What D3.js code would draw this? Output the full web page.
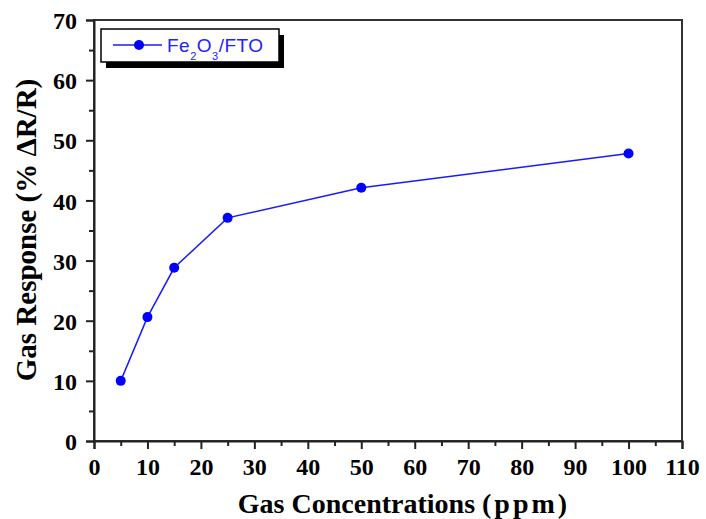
<!DOCTYPE html>
<html>
<head>
<meta charset="utf-8">
<script src="https://cdn.jsdelivr.net/npm/d3@7"></script>
<style>
  body { margin: 0; background: #fff; }
  .tick text { font-family: "Liberation Serif", serif; font-weight: bold; font-size: 24px; fill: #000; }
</style>
</head>
<body>
<div id="chart"></div>
<script>
// gas response vs concentration
var concentrations = [5, 10, 15, 25, 50, 100]
var responses = [10.0, 20.6, 28.8, 37.1, 42.1, 47.8]
var xTicks = [0, 10, 20, 30, 40, 50, 60, 70, 80, 90, 100, 110]
var yTicks = [0, 10, 20, 30, 40, 50, 60, 70]
var seriesName = "Fe2O3/FTO"

var margin = { top: 20, right: 24, bottom: 78, left: 94 },
  width = 706 - margin.left - margin.right,
  height = 519 - margin.top - margin.bottom

var svg = d3.select("#chart").append("svg")
  .attr("width", 706)
  .attr("height", 519)

var g = svg.append("g")
  .attr("transform", "translate(" + margin.left + "," + margin.top + ")")

var x = d3.scaleLinear().domain([0, 110]).range([0, width])
var y = d3.scaleLinear().domain([0, 70]).range([height, 0])

// frame
g.append("rect")
  .attr("x", 0).attr("y", 0)
  .attr("width", width).attr("height", height)
  .attr("fill", "none")
  .attr("stroke", "#333")
  .attr("stroke-width", 2)

// x axis with minor ticks
var xMinor = d3.range(5, 110, 10)
g.append("g")
  .attr("transform", "translate(0," + height + ")")
  .call(d3.axisBottom(x).tickValues(xMinor).tickSize(5).tickFormat(""))
  .call(function(a) { a.select(".domain").remove() })
  .selectAll("line").attr("stroke", "#222").attr("stroke-width", 2)
var xAxis = g.append("g")
  .attr("transform", "translate(0," + height + ")")
  .call(d3.axisBottom(x).tickValues(xTicks).tickSize(8).tickPadding(9).tickFormat(d3.format("d")))
xAxis.select(".domain").attr("stroke", "#222").attr("stroke-width", 2)
xAxis.selectAll("line").attr("stroke", "#222").attr("stroke-width", 2)

// y axis with minor ticks
var yMinor = d3.range(5, 70, 10)
g.append("g")
  .call(d3.axisLeft(y).tickValues(yMinor).tickSize(5).tickFormat(""))
  .call(function(a) { a.select(".domain").remove() })
  .selectAll("line").attr("stroke", "#222").attr("stroke-width", 2)
var yAxis = g.append("g")
  .call(d3.axisLeft(y).tickValues(yTicks).tickSize(8).tickPadding(9).tickFormat(d3.format("d")))
yAxis.select(".domain").attr("stroke", "#222").attr("stroke-width", 2)
yAxis.selectAll("line").attr("stroke", "#222").attr("stroke-width", 2)
yAxis.selectAll("text").attr("dy", "0.36em")

// axis titles
var xt = svg.append("text")
  .attr("x", 404)
  .attr("y", 513)
  .attr("text-anchor", "middle")
  .style("font-family", "Liberation Serif, serif")
  .style("font-weight", "bold")
  .style("font-size", "28px")
xt.append("tspan").text("Gas Concentrations ")
xt.append("tspan").style("letter-spacing", "3px").text("(ppm)")

svg.append("text")
  .attr("transform", "translate(36,230) rotate(-90)")
  .attr("text-anchor", "middle")
  .style("font-family", "Liberation Serif, serif")
  .style("font-weight", "bold")
  .style("font-size", "29px")
  .text("Gas Response (% \u0394R/R)")

// data line
var data = concentrations.map(function(c, i) { return { c: c, r: responses[i] } })
var line = d3.line()
  .x(function(d) { return x(d.c) })
  .y(function(d) { return y(d.r) })

g.append("path")
  .datum(data)
  .attr("fill", "none")
  .attr("stroke", "#1a1aff")
  .attr("stroke-width", 1.5)
  .attr("d", line)

g.selectAll(".dot")
  .data(data)
  .enter().append("circle")
  .attr("class", "dot")
  .attr("cx", function(d) { return x(d.c) })
  .attr("cy", function(d) { return y(d.r) })
  .attr("r", 5)
  .attr("fill", "#0000ff")

// legend
var lg = svg.append("g").attr("transform", "translate(101,29)")
lg.append("rect")
  .attr("x", 5).attr("y", 6)
  .attr("width", 178).attr("height", 33)
  .attr("fill", "#000")
lg.append("rect")
  .attr("x", 0).attr("y", 0)
  .attr("width", 178).attr("height", 33)
  .attr("fill", "#fff")
  .attr("stroke", "#000")
  .attr("stroke-width", 1.5)
lg.append("line")
  .attr("x1", 12).attr("x2", 61)
  .attr("y1", 16).attr("y2", 16)
  .attr("stroke", "#1a1aff").attr("stroke-width", 1.5)
lg.append("circle")
  .attr("cx", 38).attr("cy", 16).attr("r", 5)
  .attr("fill", "#0000ff")
var lt = lg.append("text")
  .attr("x", 66).attr("y", 23)
  .style("font-family", "Liberation Sans, Arial, sans-serif")
  .style("font-size", "19px")
  .style("letter-spacing", "0.5px")
  .attr("fill", "#2222ff")
lt.append("tspan").text("Fe")
lt.append("tspan").attr("dy", 8).style("font-size", "11px").text("2")
lt.append("tspan").attr("dy", -8).text("O")
lt.append("tspan").attr("dy", 8).style("font-size", "11px").text("3")
lt.append("tspan").attr("dy", -8).text("/FTO")
</script>
</body>
</html>
